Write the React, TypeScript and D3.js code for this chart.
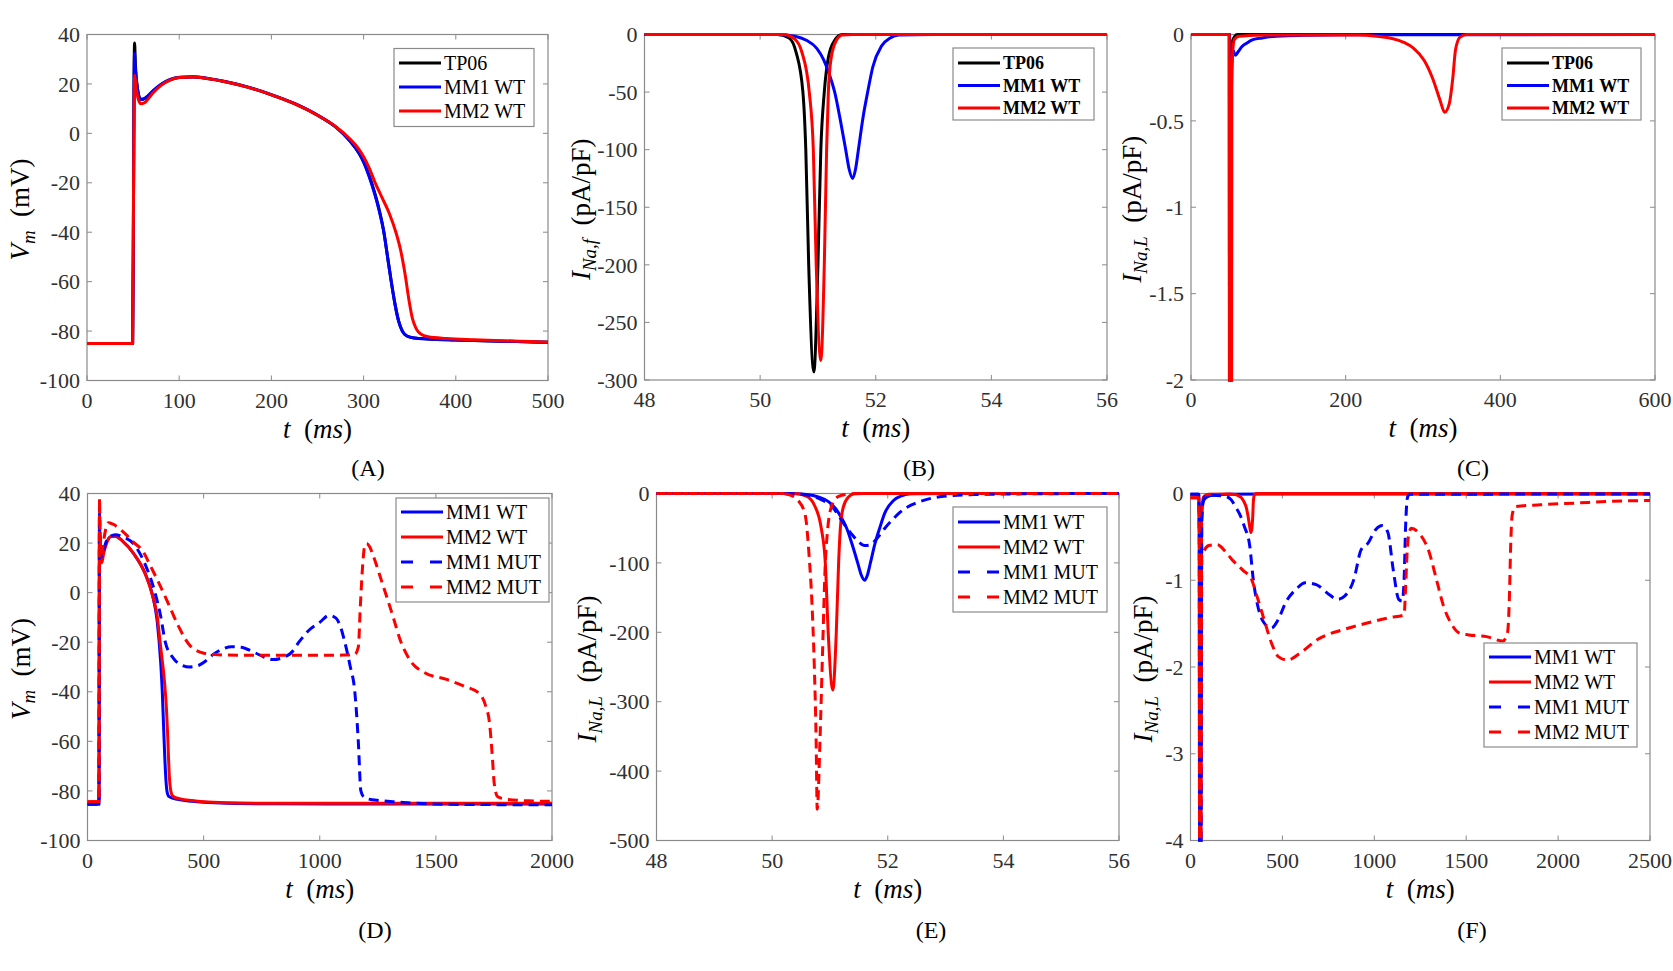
import React from 'react';
import * as d3 from 'd3';

type Pt = [number, number];

// ================= DATA =================
// Panel A: membrane potential (t ms, Vm mV)
const aTicksX = [0, 100, 200, 300, 400, 500];
const aTicksY = [-100, -80, -60, -40, -20, 0, 20, 40];
const vmTP06: Pt[] = [[0,-85],[49.5,-85],[50.3,-40],[51,20],[51.6,36.6],[52.5,28],[55,17.5],[58,13.8],[61,13.8],[66,15],[72,17.2],[80,19.6],[90,21.6],[100,22.6],[115,22.8],[130,22.2],[150,20.9],[175,18.6],[200,15.6],[225,12],[250,7.3],[270,2.5],[285,-3],[295,-8],[300,-11.5],[306,-17],[312,-24],[317,-31],[322,-40],[326,-50],[330,-60],[334,-69],[338,-76],[342,-80],[347,-82],[355,-82.8],[370,-83.2],[400,-83.6],[450,-84.1],[500,-84.5]];
const vmMM1WT: Pt[] = [[0,-85],[49.5,-85],[50.3,-40],[51,18],[51.6,32.3],[52.5,26],[55,17.5],[58,13.8],[61,13.9],[66,15.2],[72,17.4],[80,19.8],[90,21.8],[100,22.7],[115,22.9],[130,22.3],[150,21],[175,18.7],[200,15.7],[225,12.1],[250,7.4],[270,2.5],[285,-3],[295,-8],[300,-11.5],[306,-17.5],[312,-24.5],[317,-31.5],[322,-40],[326,-50],[330,-60],[334,-69],[338,-76],[342,-80],[347,-82],[355,-82.8],[370,-83.2],[400,-83.6],[450,-84.1],[500,-84.5]];
const vmMM2WT: Pt[] = [[0,-85],[49.5,-85],[50.5,-20],[51.2,15],[51.8,23.5],[53,19],[55.5,14],[58.5,12],[62,12.3],[66,13.8],[72,16.5],[80,19.3],[90,21.5],[100,22.6],[115,22.8],[130,22.2],[150,20.9],[175,18.6],[200,15.6],[225,12],[250,7.3],[270,2.7],[285,-2.2],[295,-6.5],[300,-9.5],[306,-14],[312,-19.5],[320,-26],[328,-32.5],[335,-40],[340,-47],[345,-57],[349,-67],[353,-75],[357,-79],[362,-81.2],[370,-82.3],[390,-83],[420,-83.5],[460,-84],[500,-84.5]];

// Panel B: fast sodium current (t ms, pA/pF)
const bTicksX = [48, 50, 52, 54, 56];
const bTicksY = [-300, -250, -200, -150, -100, -50, 0];
const inafTP06: Pt[] = [[48,0],[50.3,0],[50.5,-3],[50.62,-15],[50.74,-50],[50.79,-100],[50.84,-200],[50.93,-293],[51.0,-200],[51.05,-100],[51.11,-50],[51.18,-20],[51.29,-5],[51.42,0],[56,0]];
const inafMM1WT: Pt[] = [[48,0],[50.3,0],[50.6,-1.5],[50.8,-5],[50.98,-12],[51.1,-22],[51.2,-35],[51.29,-50],[51.39,-75],[51.48,-100],[51.54,-117],[51.6,-125],[51.65,-117],[51.7,-100],[51.78,-72],[51.86,-50],[51.95,-28],[52.1,-10],[52.25,-3],[52.4,-0.5],[53,0],[56,0]];
const inafMM2WT: Pt[] = [[48,0],[50.4,0],[50.6,-4],[50.72,-15],[50.85,-50],[50.92,-100],[50.97,-200],[51.05,-283],[51.11,-200],[51.15,-100],[51.18,-50],[51.23,-20],[51.32,-5],[51.42,-0.5],[51.6,0],[56,0]];

// Panel C: late sodium current (t ms, pA/pF)
const cTicksX = [0, 200, 400, 600];
const cTicksY = [-2, -1.5, -1, -0.5, 0];
const inalTP06: Pt[] = [[0,0],[49.6,0],[50.2,-6],[51.6,-6],[52.3,-0.05],[60,0],[600,0]];
const inalMM1WT: Pt[] = [[0,0],[49.6,0],[50.2,-6],[51.6,-6],[52.4,-0.3],[54,-0.09],[57.4,-0.12],[61,-0.1],[66,-0.07],[72,-0.05],[80,-0.03],[92,-0.02],[110,-0.01],[150,-0.004],[200,-0.002],[600,0]];
const inalMM2WT: Pt[] = [[0,0],[49.4,0],[50,-6],[52,-6],[52.8,-0.2],[56,-0.03],[62,-0.01],[100,-0.003],[218,-0.003],[240,-0.01],[260,-0.023],[275,-0.045],[288,-0.08],[301.6,-0.15],[313,-0.26],[322,-0.38],[328,-0.45],[334,-0.4],[338.6,-0.25],[342,-0.09],[348,-0.014],[357,0],[600,0]];

// Panel D: membrane potential, WT vs MUT (t ms, mV)
const dTicksX = [0, 500, 1000, 1500, 2000];
const dTicksY = [-100, -80, -60, -40, -20, 0, 20, 40];
const vmDMM1WT: Pt[] = [[0,-85.4],[49.5,-85.4],[50.3,-40],[51,18],[51.6,32],[52.5,26],[55,17.5],[58,13.8],[62,14.2],[70,16.8],[80,19.8],[100,22.6],[120,22.8],[150,20.9],[200,15.6],[250,7.3],[280,-1],[300,-11.5],[315,-28],[322,-40],[328,-55],[333,-67],[338,-76],[342,-80],[350,-82.2],[370,-83],[400,-83.6],[450,-84.2],[500,-84.6],[600,-85],[800,-85.2],[1200,-85.3],[2000,-85.3]];
const vmDMM2WT: Pt[] = [[0,-84.4],[49.5,-84.4],[50.5,-20],[51.2,15],[51.8,23.5],[53,19],[55.5,14],[58.5,12],[62,12.3],[70,16],[80,19.3],[100,22.6],[120,22.8],[150,20.9],[200,15.6],[250,7.3],[280,-1.2],[300,-9.5],[312,-19.5],[320,-26],[328,-32.5],[335,-40],[340,-47],[345,-57],[349,-67],[353,-75],[357,-79],[362,-81.2],[370,-82.3],[400,-83.2],[450,-83.9],[500,-84.4],[600,-84.8],[800,-85],[2000,-85]];
const vmDMM1MUT: Pt[] = [[0,-85.4],[49.5,-85.4],[50.3,-40],[51,20],[51.6,35],[53,27],[56,17],[60,14.5],[66,16],[80,20.5],[100,22.8],[120,23.4],[150,22.6],[200,19.5],[250,11],[290,0.2],[315,-9.5],[335,-20],[370,-26.5],[400,-29],[440,-30],[480,-29.3],[510,-27.5],[540,-25],[580,-22.8],[620,-21.8],[660,-22],[720,-24.2],[760,-26],[800,-27],[840,-26.2],[880,-24],[910,-20],[950,-15.5],[1000,-12],[1040,-9.2],[1070,-10.3],[1090,-14],[1108,-20],[1131,-29.7],[1151,-40],[1166,-60],[1177,-80],[1190,-82.5],[1210,-83.3],[1260,-83.9],[1320,-84.4],[1420,-85],[1550,-85.4],[2000,-85.6]];
const vmDMM2MUT: Pt[] = [[0,-84.4],[49.5,-84.4],[50.5,-20],[51.2,20],[51.8,38],[53,30],[56,19],[60,16],[66,18.5],[75,24],[90,28.2],[110,27.6],[150,24.8],[200,20.2],[240,16.5],[270,11],[300,5.3],[346,-4],[392,-13.6],[438,-21],[485,-24],[546,-25],[700,-25.3],[900,-25.3],[1100,-25.2],[1150,-25],[1166,-22],[1175,-5],[1184,10],[1193,18.5],[1202,19.8],[1215,18.5],[1231,14.7],[1269,3.9],[1315,-9.5],[1346,-19],[1392,-27.7],[1454,-32.4],[1546,-35],[1623,-37.8],[1685,-40.5],[1715,-45.9],[1731,-52.6],[1743,-66],[1751,-76.8],[1765,-82.2],[1800,-83.3],[1900,-84],[2000,-84.2]];

// Panel E: sodium current, WT vs MUT (t ms, pA/pF)
const eTicksX = [48, 50, 52, 54, 56];
const eTicksY = [-500, -400, -300, -200, -100, 0];
const inaEMM1MUT: Pt[] = [[48,0],[50.2,0],[50.5,-1],[50.7,-4],[50.85,-9],[51.03,-18],[51.15,-32],[51.27,-47],[51.4,-61],[51.5,-70],[51.6,-75],[51.7,-74],[51.77,-69],[51.86,-60],[51.95,-50],[52.08,-38],[52.2,-28],[52.35,-19],[52.5,-13.5],[52.8,-6],[53.1,-3],[53.5,-1.5],[54,-0.8],[55,-0.2],[56,0]];
const inaEMM2MUT: Pt[] = [[48,0],[50.15,0],[50.3,-2],[50.45,-10],[50.57,-30],[50.64,-90],[50.69,-160],[50.73,-250],[50.76,-350],[50.78,-455],[50.83,-350],[50.87,-235],[50.92,-100],[50.96,-52],[51.03,-18],[51.15,-4],[51.3,-1],[51.5,0],[56,0]];

// Panel F: late sodium current, WT vs MUT (t ms, pA/pF)
const fTicksX = [0, 500, 1000, 1500, 2000, 2500];
const fTicksY = [-4, -3, -2, -1, 0];
const inalFMM1WT: Pt[] = [[0,-0.01],[45,-0.01],[48,-0.5],[49.5,-5],[55,-5],[60,-0.3],[65,-0.12],[75,-0.07],[90,-0.04],[120,-0.02],[200,-0.01],[400,-0.005],[2500,-0.005]];
const inalFMM2WT: Pt[] = [[0,-0.05],[45,-0.05],[48,-0.5],[49.5,-5],[55,-5],[60,-0.3],[70,-0.04],[100,-0.01],[218,-0.005],[240,-0.01],[260,-0.025],[278,-0.05],[292,-0.1],[302,-0.15],[313,-0.26],[322,-0.38],[328,-0.45],[334,-0.4],[339,-0.25],[342,-0.09],[348,-0.014],[357,0],[2500,0]];
const inalFMM1MUT: Pt[] = [[0,-0.01],[45,-0.01],[48,-0.5],[49.5,-5],[56,-5],[62,-0.3],[70,-0.08],[80,-0.03],[120,-0.02],[185,-0.03],[220,-0.07],[244,-0.15],[270,-0.25],[293,-0.38],[322,-0.6],[342,-1.0],[371,-1.34],[400,-1.49],[440,-1.55],[478,-1.45],[517,-1.26],[576,-1.1],[625,-1.03],[684,-1.05],[752,-1.16],[800,-1.22],[840,-1.18],[889,-0.99],[928,-0.65],[967,-0.57],[1006,-0.42],[1045,-0.37],[1074,-0.45],[1103,-0.88],[1133,-1.22],[1152,-1.24],[1162,-1.0],[1170,-0.4],[1180,-0.05],[1190,-0.01],[2500,-0.005]];
const inalFMM2MUT: Pt[] = [[0,-0.05],[45,-0.05],[48,-0.5],[49.5,-5],[56,-5],[60,-0.75],[70,-0.68],[100,-0.6],[146,-0.59],[190,-0.67],[225,-0.76],[283,-0.88],[332,-0.99],[361,-1.18],[400,-1.45],[440,-1.72],[478,-1.88],[527,-1.92],[596,-1.84],[693,-1.68],[830,-1.57],[967,-1.49],[1084,-1.43],[1162,-1.4],[1170,-1.1],[1178,-0.7],[1186,-0.49],[1201,-0.4],[1240,-0.45],[1299,-0.68],[1338,-0.99],[1377,-1.3],[1416,-1.49],[1465,-1.61],[1514,-1.63],[1611,-1.65],[1700,-1.7],[1725,-1.6],[1735,-1.2],[1742,-0.6],[1750,-0.25],[1768,-0.15],[1904,-0.13],[2100,-0.11],[2295,-0.09],[2500,-0.08]];

// Legend names
const namesTop = ['TP06', 'MM1 WT', 'MM2 WT'];
const namesBottom = ['MM1 WT', 'MM2 WT', 'MM1 MUT', 'MM2 MUT'];

// ================= STYLE / LAYOUT =================
const FONT = '"Liberation Serif", "Times New Roman", serif';
const BLUE = '#0000ff';
const RED = '#ff0000';
const BLACK = '#000000';
const AXIS = '#8a8a8a';
const TICKTXT = '#303030';

interface Series { data: Pt[]; color: string; dashed?: boolean }
interface Box { l: number; r: number; t: number; b: number }
interface Legend { x: number; y: number; w: number; h: number; first: number; step: number; size: number; bold?: boolean; names: string[]; styles: { color: string; dashed?: boolean }[] }

function YLabel({ x, y, main, sub, size }: { x: number; y: number; main: string; sub: string; size: number }) {
  return (
    <text transform={`translate(${x},${y}) rotate(-90)`} textAnchor="middle" fontFamily={FONT} fontSize={size} fill="#000">
      <tspan fontStyle="italic">{main}</tspan>
      <tspan fontStyle="italic" fontSize={size * 0.7} dy={size * 0.22}>{sub}</tspan>
      <tspan dy={-size * 0.22}>{'\u2002(' + (main === 'V' ? 'mV' : 'pA/pF') + ')'}</tspan>
    </text>
  );
}

function Panel(props: {
  id: string; box: Box; xDomain: [number, number]; yDomain: [number, number];
  xTicks: number[]; yTicks: number[]; series: Series[]; legend: Legend;
  yl: { x: number; main: string; sub: string }; tag: string; tagX: number; tagY: number;
}) {
  const { id, box, xDomain, yDomain, xTicks, yTicks, series, legend, yl, tag, tagX, tagY } = props;
  const x = d3.scaleLinear().domain(xDomain).range([box.l, box.r]);
  const y = d3.scaleLinear().domain(yDomain).range([box.b, box.t]);
  const line = d3.line<Pt>().x(d => x(d[0])).y(d => y(d[1])).curve(d3.curveMonotoneX);
  const tl = 5;
  const cx = (box.l + box.r) / 2;
  const cy = (box.t + box.b) / 2;
  return (
    <g>
      <defs>
        <clipPath id={`clip-${id}`}>
          <rect x={box.l - 1.5} y={box.t - 1.5} width={box.r - box.l + 3} height={box.b - box.t + 3} />
        </clipPath>
      </defs>
      {xTicks.map(v => (
        <g key={'xt' + v}>
          <line x1={x(v)} x2={x(v)} y1={box.b} y2={box.b - tl} stroke={AXIS} strokeWidth={1} />
          <line x1={x(v)} x2={x(v)} y1={box.t} y2={box.t + tl} stroke={AXIS} strokeWidth={1} />
          <text x={x(v)} y={box.b + 27} textAnchor="middle" fontFamily={FONT} fontSize={22} fill={TICKTXT}>{String(v)}</text>
        </g>
      ))}
      {yTicks.map(v => (
        <g key={'yt' + v}>
          <line x1={box.l} x2={box.l + tl} y1={y(v)} y2={y(v)} stroke={AXIS} strokeWidth={1} />
          <line x1={box.r} x2={box.r - tl} y1={y(v)} y2={y(v)} stroke={AXIS} strokeWidth={1} />
          <text x={box.l - 7} y={y(v)} dy="0.35em" textAnchor="end" fontFamily={FONT} fontSize={22} fill={TICKTXT}>{String(v)}</text>
        </g>
      ))}
      <rect x={box.l} y={box.t} width={box.r - box.l} height={box.b - box.t} fill="none" stroke={AXIS} strokeWidth={1.2} />
      <g clipPath={`url(#clip-${id})`}>
        {series.map((s, i) => (
          <path key={i} d={line(s.data) || ''} fill="none" stroke={s.color} strokeWidth={3}
            strokeDasharray={s.dashed ? '10 6' : undefined} strokeLinejoin="round" />
        ))}
      </g>
      <rect x={legend.x} y={legend.y} width={legend.w} height={legend.h} fill="#fff" stroke={AXIS} strokeWidth={1.2} />
      {legend.names.map((n, i) => {
        const ry = legend.y + legend.first + i * legend.step;
        const st = legend.styles[i];
        return (
          <g key={n}>
            <line x1={legend.x + 5} x2={legend.x + 47} y1={ry} y2={ry} stroke={st.color} strokeWidth={3}
              strokeDasharray={st.dashed ? '12 17' : undefined} />
            <text x={legend.x + 50} y={ry} dy="0.34em" fontFamily={FONT} fontSize={legend.size}
              fontWeight={legend.bold ? 'bold' : 'normal'} fill="#000">{n}</text>
          </g>
        );
      })}
      <text x={cx} y={box.b + 57} textAnchor="middle" fontFamily={FONT} fontSize={27} fill="#000">
        <tspan fontStyle="italic">t</tspan>
        <tspan>{'\u2002('}</tspan>
        <tspan fontStyle="italic">ms</tspan>
        <tspan>)</tspan>
      </text>
      <YLabel x={yl.x} y={cy + 2} main={yl.main} sub={yl.sub} size={27} />
      <text x={tagX} y={tagY} textAnchor="middle" fontFamily={FONT} fontSize={24} fill="#000">{tag}</text>
    </g>
  );
}

const stylesTop = [{ color: BLACK }, { color: BLUE }, { color: RED }];
const stylesBottom = [{ color: BLUE }, { color: RED }, { color: BLUE, dashed: true }, { color: RED, dashed: true }];

export default function App() {
  return (
    <div style={{ position: 'absolute', left: 0, top: 0, background: '#fff' }}>
      <svg width={1673} height={971} viewBox="0 0 1673 971" style={{ display: 'block', background: '#fff' }}>
        <Panel id="A" box={{ l: 87, r: 548, t: 34.5, b: 380.5 }} xDomain={[0, 500]} yDomain={[-100, 40]}
          xTicks={aTicksX} yTicks={aTicksY}
          series={[{ data: vmTP06, color: BLACK }, { data: vmMM1WT, color: BLUE }, { data: vmMM2WT, color: RED }]}
          legend={{ x: 394, y: 48.5, w: 140, h: 78, first: 14.5, step: 24, size: 20, names: namesTop, styles: stylesTop }}
          yl={{ x: 29, main: 'V', sub: 'm' }} tag="(A)" tagX={368} tagY={476} />
        <Panel id="B" box={{ l: 644.5, r: 1107, t: 34.5, b: 380 }} xDomain={[48, 56]} yDomain={[-300, 0]}
          xTicks={bTicksX} yTicks={bTicksY}
          series={[{ data: inafTP06, color: BLACK }, { data: inafMM1WT, color: BLUE }, { data: inafMM2WT, color: RED }]}
          legend={{ x: 953, y: 48, w: 141, h: 72, first: 15, step: 22.5, size: 18, bold: true, names: namesTop, styles: stylesTop }}
          yl={{ x: 590, main: 'I', sub: 'Na,f' }} tag="(B)" tagX={919} tagY={476} />
        <Panel id="C" box={{ l: 1191, r: 1655, t: 34.5, b: 380 }} xDomain={[0, 600]} yDomain={[-2, 0]}
          xTicks={cTicksX} yTicks={cTicksY}
          series={[{ data: inalTP06, color: BLACK }, { data: inalMM1WT, color: BLUE }, { data: inalMM2WT, color: RED }]}
          legend={{ x: 1502, y: 48, w: 139, h: 72, first: 15, step: 22.5, size: 18, bold: true, names: namesTop, styles: stylesTop }}
          yl={{ x: 1141, main: 'I', sub: 'Na,L' }} tag="(C)" tagX={1473} tagY={476} />
        <Panel id="D" box={{ l: 87.5, r: 552, t: 493.5, b: 840.5 }} xDomain={[0, 2000]} yDomain={[-100, 40]}
          xTicks={dTicksX} yTicks={dTicksY}
          series={[{ data: vmDMM1WT, color: BLUE }, { data: vmDMM2WT, color: RED }, { data: vmDMM1MUT, color: BLUE, dashed: true }, { data: vmDMM2MUT, color: RED, dashed: true }]}
          legend={{ x: 396, y: 498, w: 153, h: 104, first: 14, step: 25, size: 20, names: namesBottom, styles: stylesBottom }}
          yl={{ x: 29.5, main: 'V', sub: 'm' }} tag="(D)" tagX={375} tagY={938} />
        <Panel id="E" box={{ l: 656.5, r: 1119, t: 493.5, b: 840.5 }} xDomain={[48, 56]} yDomain={[-500, 0]}
          xTicks={eTicksX} yTicks={eTicksY}
          series={[{ data: inafMM1WT, color: BLUE }, { data: inafMM2WT, color: RED }, { data: inaEMM1MUT, color: BLUE, dashed: true }, { data: inaEMM2MUT, color: RED, dashed: true }]}
          legend={{ x: 953, y: 507, w: 154, h: 105, first: 15, step: 25, size: 20, names: namesBottom, styles: stylesBottom }}
          yl={{ x: 596, main: 'I', sub: 'Na,L' }} tag="(E)" tagX={931} tagY={938} />
        <Panel id="F" box={{ l: 1190.5, r: 1650, t: 493.5, b: 840.5 }} xDomain={[0, 2500]} yDomain={[-4, 0]}
          xTicks={fTicksX} yTicks={fTicksY}
          series={[{ data: inalFMM1WT, color: BLUE }, { data: inalFMM2WT, color: RED }, { data: inalFMM1MUT, color: BLUE, dashed: true }, { data: inalFMM2MUT, color: RED, dashed: true }]}
          legend={{ x: 1484, y: 643, w: 153, h: 104, first: 14, step: 25, size: 20, names: namesBottom, styles: stylesBottom }}
          yl={{ x: 1152, main: 'I', sub: 'Na,L' }} tag="(F)" tagX={1472} tagY={938} />
      </svg>
    </div>
  );
}
